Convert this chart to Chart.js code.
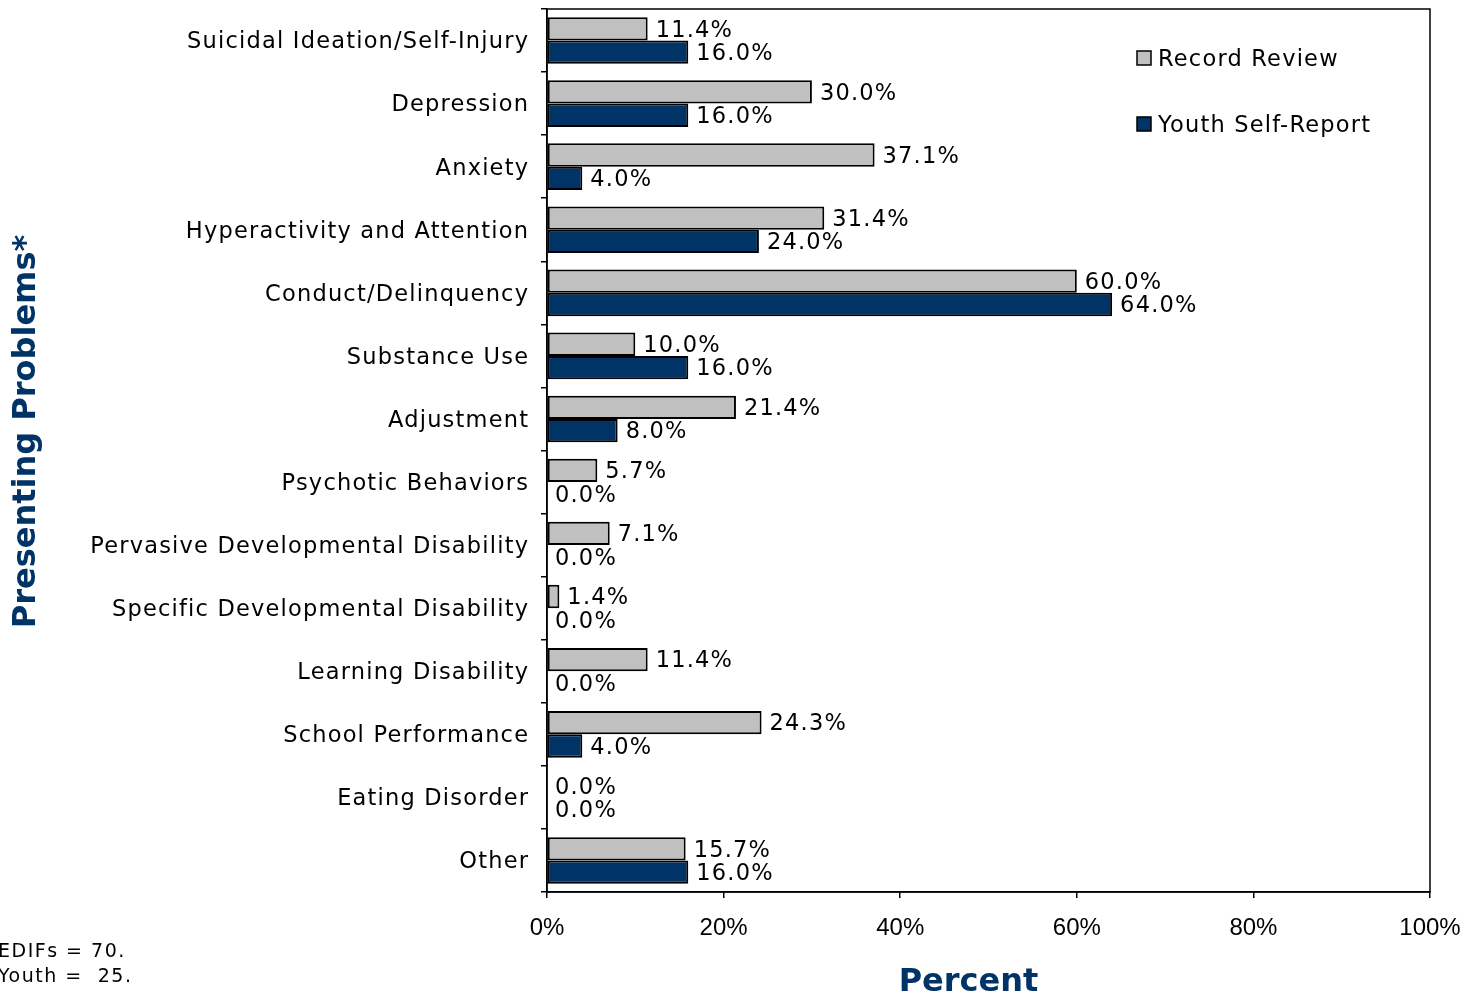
<!DOCTYPE html>
<html>
<head>
<meta charset="utf-8">
<title>Presenting Problems</title>
<script src="https://cdn.jsdelivr.net/npm/chart.js@4/dist/chart.umd.min.js"></script>
<style>
  html, body { margin: 0; padding: 0; background: #fff; }
  #wrap { width: 1473px; height: 996px; }
</style>
</head>
<body>
<div id="wrap"><canvas id="problemsChart" width="1473" height="996"></canvas></div>
<script>
const categories = [
    'Suicidal Ideation/Self-Injury',
    'Depression',
    'Anxiety',
    'Hyperactivity and Attention',
    'Conduct/Delinquency',
    'Substance Use',
    'Adjustment',
    'Psychotic Behaviors',
    'Pervasive Developmental Disability',
    'Specific Developmental Disability',
    'Learning Disability',
    'School Performance',
    'Eating Disorder',
    'Other'
];
const recordReview = [11.4, 30.0, 37.1, 31.4, 60.0, 10.0, 21.4, 5.7, 7.1, 1.4, 11.4, 24.3, 0.0, 15.7];
const youthSelfReport = [16.0, 16.0, 4.0, 24.0, 64.0, 16.0, 8.0, 0.0, 0.0, 0.0, 0.0, 4.0, 0.0, 16.0];
const seriesNames = ['Record Review', 'Youth Self-Report'];
const footnotes = ['EDIFs = 70.', 'Youth =  25.'];

const NAVY = '#003366';
const TEXT_FONT = '22.5px "DejaVu Sans", Verdana, sans-serif';
const TITLE_FONT = 'bold 32px "DejaVu Sans", Verdana, sans-serif';
const SPACING = 1.2;

function spacedText(ctx, text, x, y, align) {
    ctx.letterSpacing = SPACING + 'px';
    ctx.textAlign = align;
    // trailing spacing shifts right-aligned text, so push it back
    ctx.fillText(text, align === 'right' ? x + SPACING : x, y);
    ctx.letterSpacing = '0px';
}

// category names, value labels, legend, frame, axis titles and footnote
const decorations = {
    id: 'decorations',
    afterDatasetsDraw(chart) {
        const ctx = chart.ctx;
        const area = chart.chartArea;
        const yScale = chart.scales.y;
        ctx.save();
        ctx.fillStyle = '#000';
        ctx.font = TEXT_FONT;
        ctx.textBaseline = 'middle';

        categories.forEach((name, i) => {
            spacedText(ctx, name, area.left - 19, yScale.getPixelForTick(i) + 2, 'right');
        });

        chart.data.datasets.forEach((ds, di) => {
            chart.getDatasetMeta(di).data.forEach((bar, j) => {
                spacedText(ctx, ds.data[j].toFixed(1) + '%', bar.x + 8, bar.y + 2, 'left');
            });
        });

        // legend inside the plot, top right
        chart.data.datasets.forEach((ds, di) => {
            const lx = area.right - 293;
            const ly = area.top + 49 + di * 66;
            ctx.fillStyle = ds.backgroundColor;
            ctx.fillRect(lx, ly - 7, 14, 14);
            ctx.strokeStyle = '#000';
            ctx.lineWidth = 1.5;
            ctx.strokeRect(lx, ly - 7, 14, 14);
            ctx.fillStyle = '#000';
            spacedText(ctx, ds.label, lx + 21, ly + 2, 'left');
        });

        ctx.strokeStyle = '#000';
        ctx.lineWidth = 1.5;
        ctx.strokeRect(area.left, area.top, area.right - area.left, area.bottom - area.top);

        // axis titles
        ctx.fillStyle = NAVY;
        ctx.font = TITLE_FONT;
        ctx.textAlign = 'center';
        ctx.fillText('Percent', (area.left + area.right) / 2 - 20, 983);
        ctx.save();
        ctx.translate(27, (area.top + area.bottom) / 2 - 19);
        ctx.rotate(-Math.PI / 2);
        ctx.fillText('Presenting Problems*', 0, 0);
        ctx.restore();

        ctx.fillStyle = '#000';
        ctx.font = '19px "DejaVu Sans", Verdana, sans-serif';
        ctx.letterSpacing = '1.5px';
        ctx.textAlign = 'left';
        footnotes.forEach((line, i) => ctx.fillText(line, -2, 952 + i * 25));
        ctx.restore();
    }
};

const chart = new Chart(document.getElementById('problemsChart'), {
    type: 'bar',
    data: {
        labels: categories,
        datasets: [{
            label: seriesNames[0],
            data: recordReview,
            backgroundColor: '#c0c0c0',
            borderColor: '#000',
            borderWidth: 2,
            borderSkipped: false
        }, {
            label: seriesNames[1],
            data: youthSelfReport,
            backgroundColor: NAVY,
            borderColor: '#000',
            borderWidth: 2,
            borderSkipped: false
        }]
    },
    options: {
        indexAxis: 'y',
        responsive: false,
        animation: false,
        datasets: {
            bar: { categoryPercentage: 0.74, barPercentage: 1.0 }
        },
        layout: { padding: { top: 9, right: 43, left: 0, bottom: 0 } },
        plugins: {
            legend: { display: false },
            tooltip: { enabled: false }
        },
        scales: {
            x: {
                min: 0,
                max: 100,
                ticks: {
                    stepSize: 20,
                    padding: 16,
                    color: '#000',
                    font: { family: '"Liberation Sans", Arial, sans-serif', size: 24 },
                    callback: v => v + '%'
                },
                grid: { drawOnChartArea: false, tickLength: 6, color: '#000', lineWidth: 1.5 },
                border: { color: '#000', width: 1.5 },
                afterFit(scale) {
                    scale.height = 104;
                    scale.paddingLeft = 0;
                    scale.paddingRight = 0;
                }
            },
            y: {
                ticks: { display: false },
                grid: { drawOnChartArea: false, tickLength: 6, color: '#000', lineWidth: 1.5 },
                border: { color: '#000', width: 1.5 },
                afterFit(scale) {
                    scale.width = 547;
                    scale.paddingTop = 0;
                    scale.paddingBottom = 0;
                }
            }
        }
    },
    plugins: [decorations]
});
</script>
</body>
</html>
